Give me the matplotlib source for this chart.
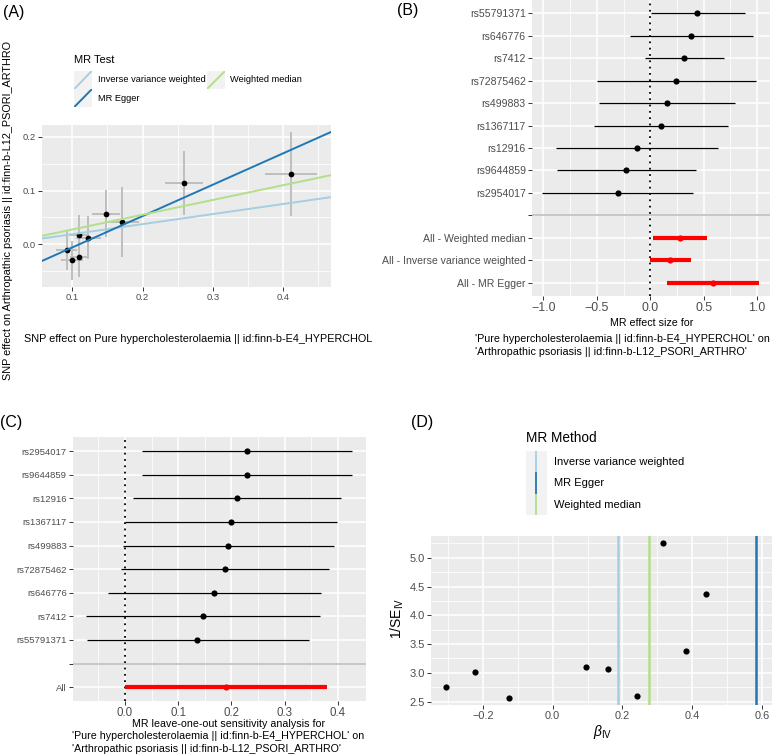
import matplotlib
matplotlib.use('Agg')
import matplotlib.pyplot as plt
import numpy as np
from matplotlib.ticker import FixedLocator, FuncFormatter

plt.rcParams['font.family'] = ['Liberation Sans', 'DejaVu Sans']
plt.rcParams['mathtext.fontset'] = 'custom'
plt.rcParams['mathtext.rm'] = 'Liberation Sans'
plt.rcParams['mathtext.it'] = 'Liberation Sans:italic'

# ---------------- data ----------------
snps = ['rs55791371', 'rs646776', 'rs7412', 'rs72875462', 'rs499883',
        'rs1367117', 'rs12916', 'rs9644859', 'rs2954017']
# Panel A: SNP effects on exposure / outcome
beta_exp = [0.2585, 0.1478, 0.4114, 0.171, 0.110, 0.1227, 0.0924, 0.1095, 0.0995]
beta_out = [0.1137, 0.057, 0.131, 0.0416, 0.018, 0.0124, -0.011, -0.0236, -0.030]
se_exp = [0.027, 0.020, 0.037, 0.024, 0.0125, 0.0175, 0.015, 0.012, 0.0155]
se_out = [0.059, 0.0437, 0.0785, 0.0655, 0.0358, 0.0396, 0.036, 0.0364, 0.0359]

# MR methods
methods = ['Inverse variance weighted', 'MR Egger', 'Weighted median']
method_b = [0.1875, 0.584, 0.275]
method_intercept = [0.0, -0.0643, 0.0]
method_colors = ['#A6CEE3', '#1F78B4', '#B2DF8A']

# Panel B: single SNP forest
b_est = [0.44, 0.384, 0.319, 0.244, 0.159, 0.097, -0.125, -0.225, -0.303]
b_lo = [0.006, -0.194, -0.053, -0.503, -0.478, -0.531, -0.884, -0.875, -1.009]
b_hi = [0.89, 0.96, 0.694, 0.99, 0.797, 0.728, 0.6375, 0.428, 0.40]
sum_labels = ['All - Weighted median', 'All - Inverse variance weighted', 'All - MR Egger']
sum_est = [0.275, 0.1875, 0.584]
sum_lo = [0.022, 0.0, 0.156]
sum_hi = [0.528, 0.378, 1.016]

# Panel C: leave-one-out
loo_snps = ['rs2954017', 'rs9644859', 'rs12916', 'rs1367117', 'rs499883',
            'rs72875462', 'rs646776', 'rs7412', 'rs55791371']
loo_est = [0.229, 0.229, 0.211, 0.200, 0.194, 0.187, 0.1675, 0.146, 0.136]
loo_lo = [0.033, 0.032, 0.016, 0.0, -0.004, -0.008, -0.0325, -0.073, -0.072]
loo_hi = [0.4256, 0.427, 0.406, 0.398, 0.392, 0.383, 0.368, 0.366, 0.346]
all_est = 0.19
all_lo = 0.0
all_hi = 0.38

# Panel D: funnel
beta_iv = [-0.3057, -0.224, -0.1246, 0.0958, 0.158, 0.2425, 0.317, 0.382, 0.439]
inv_se = [2.762, 3.007, 2.558, 3.10, 3.065, 2.605, 5.25, 3.374, 4.37]

# ---------------- figure ----------------
W, H = 772, 755
fig = plt.figure(figsize=(W / 100, H / 100), dpi=100)

BG = '#EBEBEB'
TXT = '#4D4D4D'
TICK = '#333333'
KEYBG = '#F2F2F2'
DIV = '#BEBEBE'


def px_axes(x0, y0, x1, y1):
    return fig.add_axes([x0 / W, 1 - y1 / H, (x1 - x0) / W, (y1 - y0) / H])


def ftext(x, y, s, **kw):
    return fig.text(x / W, 1 - y / H, s, **kw)


def minus_fmt(v, pos):
    return ('%.1f' % v).replace('-', '\u2212')


def style(ax, xmaj, xmin, ymaj, ymin, xfs, yfs):
    ax.set_facecolor(BG)
    for s in ax.spines.values():
        s.set_visible(False)
    ax.set_axisbelow(True)
    ax.xaxis.set_major_locator(FixedLocator(xmaj))
    ax.xaxis.set_minor_locator(FixedLocator(xmin))
    ax.yaxis.set_major_locator(FixedLocator(ymaj))
    ax.yaxis.set_minor_locator(FixedLocator(ymin))
    ax.grid(which='major', color='white', lw=1.1)
    ax.grid(which='minor', color='white', lw=0.55)
    ax.tick_params(which='major', length=2.7, width=0.7, color=TICK, pad=1.5)
    ax.tick_params(which='minor', length=0)
    ax.tick_params(axis='x', labelsize=xfs, labelcolor=TXT)
    ax.tick_params(axis='y', labelsize=yfs, labelcolor=TXT)


# ---------------- Panel A ----------------
axA = px_axes(42, 125, 331, 287)
style(axA, [0.1, 0.2, 0.3, 0.4], [0.15, 0.25, 0.35, 0.45],
      [0.0, 0.1, 0.2], [-0.05, 0.05, 0.15], 6.8, 6.8)
axA.set_xlim(0.057, 0.468)
axA.set_ylim(-0.0795, 0.222)
axA.xaxis.set_major_formatter(FuncFormatter(minus_fmt))
axA.yaxis.set_major_formatter(FuncFormatter(minus_fmt))
axA.errorbar(beta_exp, beta_out, yerr=se_out, xerr=se_exp, fmt='none',
             ecolor='#BEBEBE', elinewidth=1.4, capsize=0, zorder=2)
axA.scatter(beta_exp, beta_out, s=17, color='black', zorder=3, linewidths=0)
xs = np.array(axA.get_xlim())
for b, a, c in zip(method_b, method_intercept, method_colors):
    axA.plot(xs, a + b * xs, color=c, lw=1.4, zorder=4)
axA.set_xlim(0.057, 0.468)
ftext(198.3, 339.3, 'SNP effect on Pure hypercholesterolaemia || id:finn-b-E4_HYPERCHOL',
      ha='center', va='center', fontsize=7.8)
ftext(8, 211, 'SNP effect on Arthropathic psoriasis || id:finn-b-L12_PSORI_ARTHRO',
      ha='center', va='center', rotation=90, fontsize=7.8)

# legend A
ftext(74, 60, 'MR Test', ha='left', va='center', fontsize=8)
keyA = [(74, 71, 91.7, 89.3), (74, 89.3, 91.7, 107.3), (206.7, 71, 225, 89.3)]
textA = [(98.3, 80), (98.3, 98.7), (230, 80)]
for (x0, y0, x1, y1), (tx, ty), m, c in zip(keyA, textA, methods, method_colors):
    k = px_axes(x0, y0, x1, y1)
    k.set_facecolor(KEYBG)
    k.set_xlim(0, 1)
    k.set_ylim(0, 1)
    k.plot([0, 1], [0, 1], color=c, lw=1.4)
    k.set_xticks([])
    k.set_yticks([])
    for s in k.spines.values():
        s.set_visible(False)
    ftext(tx, ty, m, ha='left', va='center', fontsize=6.7)

# ---------------- Panel B ----------------
axB = px_axes(531.7, 0, 769.5, 296)
nS = len(snps)
rows_B = list(range(nS + 1 + len(sum_labels)))
labels_B = snps + [''] + sum_labels
style(axB, [-1.0, -0.5, 0.0, 0.5, 1.0], [-0.75, -0.25, 0.25, 0.75],
      rows_B, [], 8.9, 7.6)
axB.set_yticklabels(labels_B)
axB.xaxis.set_major_formatter(FuncFormatter(minus_fmt))
axB.set_xlim(-1.11, 1.117)
axB.set_ylim(len(rows_B) - 1 + 0.6, -0.6)
pos_snp = rows_B[:nS]
pos_sum = rows_B[nS + 1:]
axB.axvline(0, color='black', ls=(0, (1, 2.5)), lw=1.3, zorder=2)
axB.axhline(rows_B[nS], color=DIV, lw=1.2, zorder=2)
axB.yaxis.get_major_ticks()[nS].tick1line.set_color(DIV)
axB.hlines(pos_snp, b_lo, b_hi, color='black', lw=0.9, zorder=3)
axB.scatter(b_est, pos_snp, s=20, color='black', zorder=4, linewidths=0)
axB.hlines(pos_sum, sum_lo, sum_hi, color='red', lw=3.0, zorder=3)
axB.scatter(sum_est, pos_sum, s=20, color='red', zorder=4, linewidths=0)
ftext(610, 323.3, 'MR effect size for', ha='left', va='center', fontsize=7.7)
ftext(475.3, 339.3, "'Pure hypercholesterolaemia || id:finn-b-E4_HYPERCHOL' on",
      ha='left', va='center', fontsize=7.75)
ftext(475.3, 351.7, "'Arthropathic psoriasis || id:finn-b-L12_PSORI_ARTHRO'",
      ha='left', va='center', fontsize=7.75)

# ---------------- Panel C ----------------
axC = px_axes(72.7, 437, 365.7, 701.3)
nL = len(loo_snps)
rows_C = list(range(nL + 2))
labels_C = loo_snps + ['', 'All']
style(axC, [0.0, 0.1, 0.2, 0.3, 0.4], [-0.05, 0.05, 0.15, 0.25, 0.35],
      rows_C, [], 8.3, 6.8)
axC.set_yticklabels(labels_C)
axC.xaxis.set_major_formatter(FuncFormatter(minus_fmt))
axC.set_xlim(-0.098, 0.452)
axC.set_ylim(len(rows_C) - 1 + 0.6, -0.6)
axC.axvline(0, color='black', ls=(0, (1, 2.5)), lw=1.3, zorder=2)
axC.axhline(rows_C[nL], color=DIV, lw=1.2, zorder=2)
axC.yaxis.get_major_ticks()[nL].tick1line.set_color(DIV)
axC.hlines(rows_C[:nL], loo_lo, loo_hi, color='black', lw=0.9, zorder=3)
axC.scatter(loo_est, rows_C[:nL], s=20, color='black', zorder=4, linewidths=0)
axC.hlines([rows_C[-1]], [all_lo], [all_hi], color='red', lw=3.0, zorder=3)
axC.scatter([all_est], [rows_C[-1]], s=20, color='red', zorder=4, linewidths=0)
ftext(132.3, 723.7, 'MR leave-one-out sensitivity analysis for', ha='left', va='center', fontsize=7.7)
ftext(71.7, 736.3, "'Pure hypercholesterolaemia || id:finn-b-E4_HYPERCHOL' on",
      ha='left', va='center', fontsize=7.7)
ftext(71.7, 748.7, "'Arthropathic psoriasis || id:finn-b-L12_PSORI_ARTHRO'",
      ha='left', va='center', fontsize=7.7)

# ---------------- Panel D ----------------
axD = px_axes(431, 536.3, 771.7, 705.3)
style(axD, [-0.2, 0.0, 0.2, 0.4, 0.6], [-0.3, -0.1, 0.1, 0.3, 0.5],
      [2.5, 3.0, 3.5, 4.0, 4.5, 5.0], [2.75, 3.25, 3.75, 4.25, 4.75, 5.25], 7.9, 8.0)
axD.xaxis.set_major_formatter(FuncFormatter(minus_fmt))
axD.yaxis.set_major_formatter(FuncFormatter(minus_fmt))
axD.set_xlim(-0.349, 0.628)
axD.set_ylim(2.436, 5.374)
axD.scatter(beta_iv, inv_se, s=20, color='black', zorder=3, linewidths=0)
for b, c in zip(method_b, method_colors):
    axD.axvline(b, color=c, lw=1.8, zorder=4)
ftext(602.7, 732, r'$\beta_{\mathrm{IV}}$', ha='center', va='center', fontsize=10)
ftext(397, 618, r'$1/\mathrm{SE}_{\mathrm{IV}}$', ha='center', va='center',
      rotation=90, fontsize=10)

# legend D
ftext(526, 438, 'MR Method', ha='left', va='center', fontsize=9.8)
keyD_y = [451, 472.4, 493.8, 515.2]
for i, (m, c) in enumerate(zip(methods, method_colors)):
    k = px_axes(525.5, keyD_y[i], 547, keyD_y[i + 1])
    k.set_facecolor(KEYBG)
    k.set_xlim(0, 1)
    k.set_ylim(0, 1)
    k.axvline(0.5, color=c, lw=1.3)
    k.set_xticks([])
    k.set_yticks([])
    for s in k.spines.values():
        s.set_visible(False)
    ftext(554.3, (keyD_y[i] + keyD_y[i + 1]) / 2, m, ha='left', va='center', fontsize=8)

# panel labels
ftext(3, 12, '(A)', ha='left', va='center', fontsize=11.5)
ftext(396.7, 10, '(B)', ha='left', va='center', fontsize=11.5)
ftext(0, 422.8, '(C)', ha='left', va='center', fontsize=11.5)
ftext(411, 422.8, '(D)', ha='left', va='center', fontsize=11.5)

fig.savefig('out.png', dpi=100)
